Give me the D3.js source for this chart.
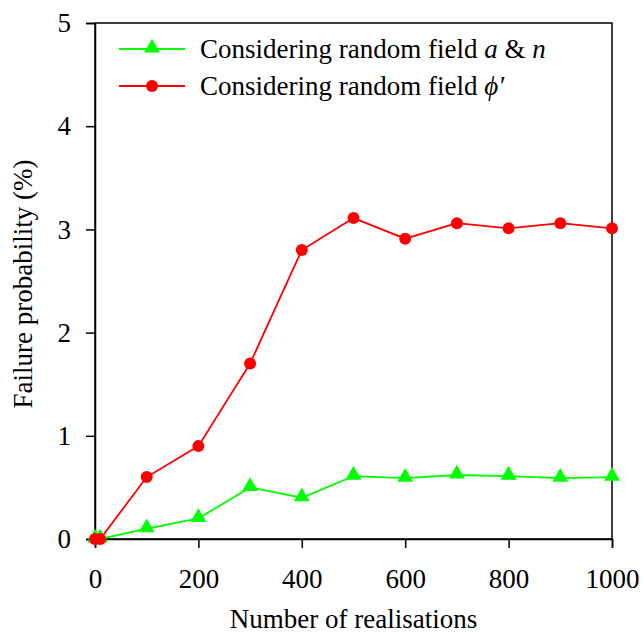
<!DOCTYPE html>
<html>
<head>
<meta charset="utf-8">
<script src="https://cdn.jsdelivr.net/npm/d3@7"></script>
<style>
  body { margin: 0; background: #fff; }
  svg { display: block; }
  svg text { font-family: "Times New Roman", "Liberation Serif", "DejaVu Serif", serif; }
</style>
</head>
<body>
<svg id="chart" width="643" height="633"></svg>
<script>
// Number of realisations sampled
const realisations = [0, 10, 100, 200, 300, 400, 500, 600, 700, 800, 900, 1000];
// Failure probability (%) for each random-field case
const seriesAN  = [0, 0, 0.10, 0.20, 0.50, 0.40, 0.61, 0.59, 0.62, 0.61, 0.59, 0.60];
const seriesPhi = [0, 0, 0.60, 0.90, 1.70, 2.80, 3.11, 2.91, 3.06, 3.01, 3.06, 3.01];
const xTicks = [0, 200, 400, 600, 800, 1000];
const yTicks = [0, 1, 2, 3, 4, 5];

const serif = "'Times New Roman', 'Liberation Serif', 'DejaVu Serif', serif";
const svg = d3.select("#chart");
const margin = { left: 95, right: 31, top: 23, bottom: 94 };
const W = 643, H = 633;
const x = d3.scaleLinear().domain([0, 1000]).range([margin.left, W - margin.right]);
const y = d3.scaleLinear().domain([0, 5]).range([H - margin.bottom, margin.top]);

// Frame
svg.append("rect")
  .attr("x", x(0)).attr("y", y(5))
  .attr("width", x(1000) - x(0)).attr("height", y(0) - y(5))
  .attr("fill", "none").attr("stroke", "#000").attr("stroke-width", 1.5);

const xAxis = svg.append("g")
  .attr("transform", `translate(0,${y(0)})`)
  .call(d3.axisBottom(x).tickValues(xTicks).tickSize(9).tickPadding(21).tickFormat(d3.format("d")));
const yAxis = svg.append("g")
  .attr("transform", `translate(${x(0)},0)`)
  .call(d3.axisLeft(y).tickValues(yTicks).tickSize(9).tickPadding(15).tickFormat(d3.format("d")));

[xAxis, yAxis].forEach(g => {
  g.attr("font-family", serif);
  g.select(".domain").attr("stroke-width", 1.5);
  g.selectAll(".tick line").attr("stroke-width", 1.5);
  g.selectAll(".tick text")
    .style("font-family", serif)
    .attr("font-size", 27).attr("fill", "#000");
});

// Axis titles
svg.append("text")
  .attr("x", (x(0) + x(1000)) / 2).attr("y", 628)
  .attr("text-anchor", "middle").attr("font-size", 27)
  .style("font-family", serif)
  .text("Number of realisations");
svg.append("text")
  .attr("transform", `translate(32,${(y(0) + y(5)) / 2 + 3}) rotate(-90)`)
  .attr("text-anchor", "middle").attr("font-size", 27)
  .style("font-family", serif)
  .text("Failure probability (%)");

const line = d3.line().x((d, i) => x(realisations[i])).y(d => y(d));
const tri = d3.symbol().type(d3.symbolTriangle).size(110);

// Random field a & n
svg.append("path").datum(seriesAN)
  .attr("d", line).attr("fill", "none").attr("stroke", "#00ff00").attr("stroke-width", 1.8);
svg.append("g").selectAll("path").data(seriesAN).join("path")
  .attr("d", tri)
  .attr("transform", (d, i) => `translate(${x(realisations[i])},${y(d) - 1})`)
  .attr("fill", "#00ff00");

// Random field phi'
svg.append("path").datum(seriesPhi)
  .attr("d", line).attr("fill", "none").attr("stroke", "#ff0000").attr("stroke-width", 1.8);
svg.append("g").selectAll("circle").data(seriesPhi).join("circle")
  .attr("cx", (d, i) => x(realisations[i])).attr("cy", d => y(d))
  .attr("r", 6).attr("fill", "#ff0000");

// Legend
const legend = svg.append("g");
const rows = [
  { color: "#00ff00", marker: "tri", y: 49 },
  { color: "#ff0000", marker: "circle", y: 86 }
];
rows.forEach(r => {
  legend.append("line").attr("x1", 119).attr("x2", 185).attr("y1", r.y).attr("y2", r.y)
    .attr("stroke", r.color).attr("stroke-width", 1.8);
  if (r.marker === "tri") {
    legend.append("path").attr("d", tri).attr("transform", `translate(152,${r.y - 1})`).attr("fill", r.color);
  } else {
    legend.append("circle").attr("cx", 152).attr("cy", r.y).attr("r", 6).attr("fill", r.color);
  }
});
const t1 = legend.append("text").attr("x", 200).attr("y", 58).attr("font-size", 27).style("font-family", serif);
t1.append("tspan").text("Considering random field ");
t1.append("tspan").attr("font-style", "italic").text("a");
t1.append("tspan").text(" & ");
t1.append("tspan").attr("font-style", "italic").text("n");
const t2 = legend.append("text").attr("x", 200).attr("y", 95).attr("font-size", 27).style("font-family", serif);
t2.append("tspan").text("Considering random field ");
t2.append("tspan").attr("font-style", "italic").text("\u03D5\u2032");
</script>
</body>
</html>
